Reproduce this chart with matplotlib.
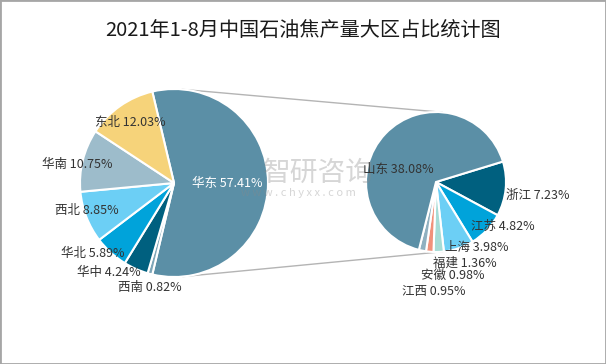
import numpy as np
import matplotlib
matplotlib.use('Agg')
import matplotlib.pyplot as plt
from matplotlib.patches import Rectangle

plt.rcParams['font.family'] = ['Noto Sans CJK SC', 'DejaVu Sans']

# ---- data ----
regions = ['华东', '西南', '华中', '华北', '西北', '华南', '东北']
region_pct = [57.41, 0.82, 4.24, 5.89, 8.85, 10.75, 12.03]
region_colors = ['#5b8fa6', '#7fa6b8', '#00607f', '#00a3da', '#6ccff5', '#9dbccb', '#f6d37a']

provinces = ['浙江', '江苏', '上海', '福建', '安徽', '江西', '山东']
province_pct = [7.23, 4.82, 3.98, 1.36, 0.98, 0.95, 38.08]
province_colors = ['#00607f', '#00a3da', '#6ccff5', '#a5dcd6', '#f0917a', '#8fb0c0', '#5b8fa6']

title = '2021年1-8月中国石油焦产量大区占比统计图'

# label placement: (radius factor, angle shift in degrees)
region_lab = [(0.57, 0), (1.14, 2), (1.18, -12), (1.14, -7), (0.97, -4), (1.05, 3), (0.79, 1)]
province_lab = [(1.46, -2), (1.15, 10), (1.10, 13), (1.23, 17), (1.36, 15), (1.56, 10), (0.57, 25)]

fig = plt.figure(figsize=(6.06, 3.64), dpi=100)
ax = fig.add_axes([0, 0, 1, 1])

c1 = np.array([174.0, 181.0]); r1 = 94
c2 = np.array([436.0, 182.0]); r2 = 70

wp = dict(edgecolor='white', linewidth=1.5)
start1 = region_pct[0] / sum(region_pct) * 180
w1, _ = ax.pie(region_pct, colors=region_colors, center=c1, radius=r1,
               startangle=start1, counterclock=False, wedgeprops=wp)
w2, _ = ax.pie(province_pct, colors=province_colors, center=c2, radius=r2,
               startangle=17, counterclock=False, wedgeprops=wp)

# connector lines (external tangents of the two pies)
d = c2 - c1
D = np.hypot(*d)
phi = np.arctan2(d[1], d[0])
alpha = np.arccos((r1 - r2) / D)
for s in (1, -1):
    a = phi + s * alpha
    p1 = c1 + r1 * np.array([np.cos(a), np.sin(a)])
    p2 = c2 + r2 * np.array([np.cos(a), np.sin(a)])
    ax.plot([p1[0], p2[0]], [p1[1], p2[1]], color='#b4b4b4', lw=1, zorder=0)

def put_labels(wedges, names, vals, labpos, c, r):
    for w, n, v, (f, sh) in zip(wedges, names, vals, labpos):
        mid = np.deg2rad((w.theta1 + w.theta2) / 2 + sh)
        x = c[0] + r * f * np.cos(mid)
        y = c[1] + r * f * np.sin(mid)
        col = 'white' if n == '华东' else '#333333'
        ax.text(x, y, f'{n} {v:.2f}%', ha='center', va='center', fontsize=9, color=col, zorder=6)

put_labels(w1, regions, region_pct, region_lab, c1, r1)
put_labels(w2, provinces, province_pct, province_lab, c2, r2)

# watermark
ax.text(318, 191, '智研咨询', fontsize=20, color='#8a8a8a', alpha=0.35,
        ha='center', va='center', zorder=5)
ax.text(298, 171, 'w w w . c h y x x . c o m', fontsize=8, color='#8a8a8a', alpha=0.35,
        ha='center', va='center', zorder=5)

ax.set_xlim(0, 606)
ax.set_ylim(0, 364)
ax.set_aspect('equal')
ax.axis('off')

fig.text(0.5, 1 - 31 / 364, title, ha='center', va='center', fontsize=14.5,
         color='#1a1a1a')
fig.add_artist(Rectangle((0, 0), 1, 1, transform=fig.transFigure, fill=False,
                         edgecolor='#a6a6a6', lw=2))

fig.savefig('out.png', dpi=100)
